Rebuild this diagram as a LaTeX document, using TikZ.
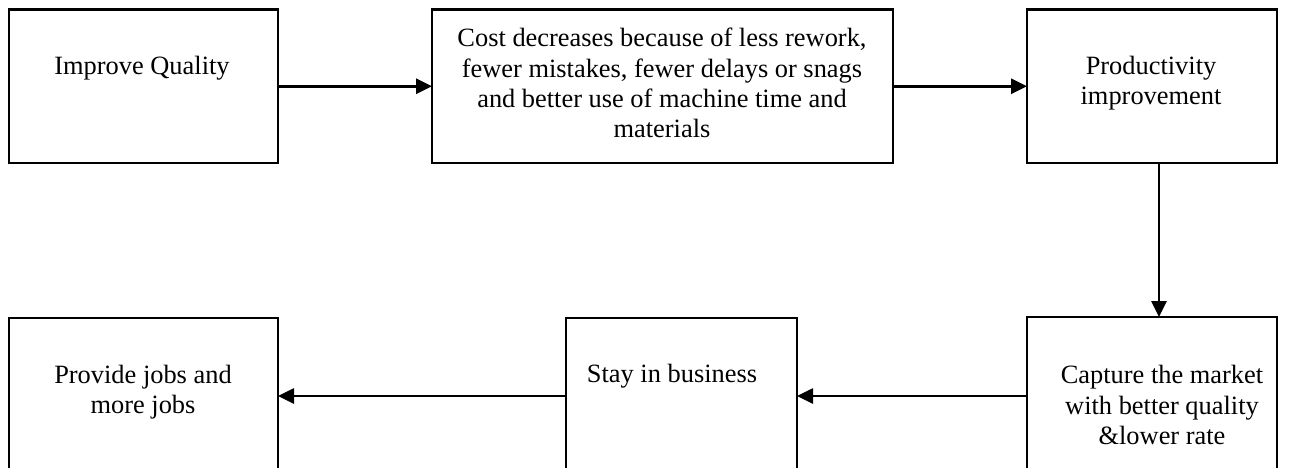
\documentclass[tikz,border=0pt]{standalone}
\usepackage{fontspec}
\setmainfont{Liberation Serif}
\usetikzlibrary{arrows.meta}
\tikzset{
  box/.style={draw=black, line width=2.5pt, rectangle, inner sep=0pt, outer sep=0pt, fill=white},
  txt/.style={align=center, inner sep=0pt, font=\fontsize{26.4}{30.2}\selectfont},
  conn/.style={draw=black, line width=2.7pt, -{Triangle[length=16pt,width=15pt]}}
}
\begin{document}
\begin{tikzpicture}[x=1pt,y=-1pt]
\useasboundingbox (0,0) rectangle (1297,467);
\clip (0,0) rectangle (1297,467);
\fill[white] (0,0) rectangle (1297,467);
% boxes
\node[box, minimum width=269pt, minimum height=153.5pt] (b1) at (143.5,86.25) {};
\node[box, minimum width=461pt, minimum height=153.5pt] (b2) at (662.5,86.25) {};
\node[box, minimum width=250pt, minimum height=153.5pt] (b3) at (1152,86.25) {};
\node[box, minimum width=269pt, minimum height=158pt] (b4) at (143.5,397) {};
\node[box, minimum width=231pt, minimum height=158pt] (b5) at (681.5,397) {};
\node[box, minimum width=250pt, minimum height=158pt] (b6) at (1152,396) {};
% texts
\node[txt] (t1) at (142,68) {Improve Quality};
\node[txt] (t2) at (662,83) {Cost decreases because of less rework,\\fewer mistakes, fewer delays or snags\\and better use of machine time and\\materials};
\node[txt] (t3) at (1151,83) {Productivity\\improvement};
\node[txt] (t4) at (143,392) {Provide jobs and\\more jobs};
\node[txt] (t5) at (672,376) {Stay in business};
\node[txt] (t6) at (1162,405) {Capture the market\\with better quality\\\&lower rate};
% connectors
\coordinate (v) at (1159,240);
\draw[conn] (b1.east) -- (b2.west);
\draw[conn] (b2.east) -- (b3.west);
\draw[conn] (b3.south -| v) -- (b6.north -| v);
\draw[conn] (b6.west) -- (b5.east |- b6.west);
\draw[conn] (b5.west |- b6.west) -- (b4.east |- b6.west);
\end{tikzpicture}
\end{document}
